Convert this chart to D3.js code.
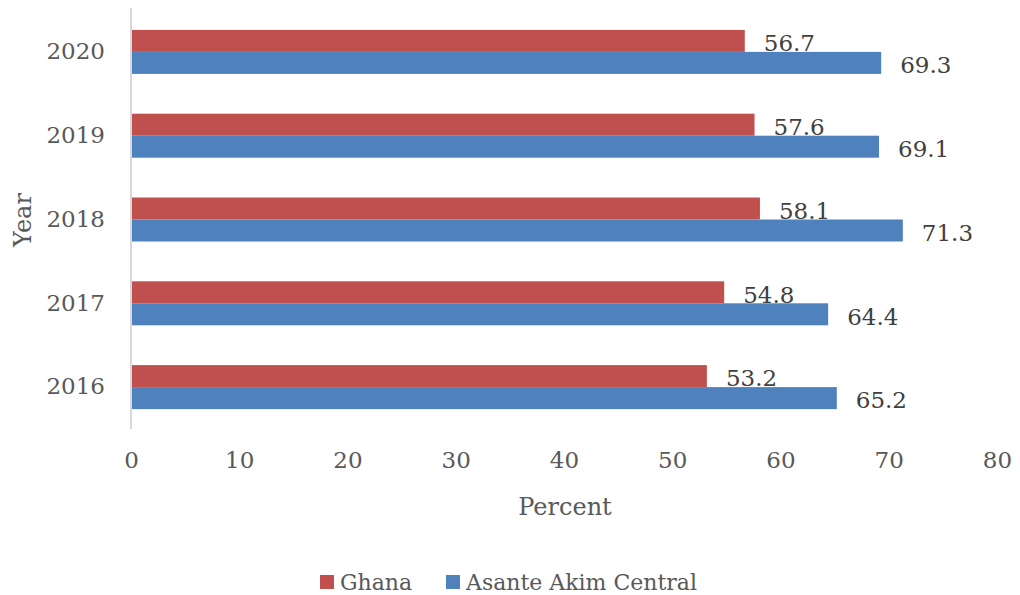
<!DOCTYPE html>
<html>
<head>
<meta charset="utf-8">
<script src="https://cdn.jsdelivr.net/npm/d3@7"></script>
<style>
  html, body { margin: 0; padding: 0; background: #fff; }
  svg text { font-family: "DejaVu Serif", "Liberation Serif", serif; }
</style>
</head>
<body>
<svg id="chart" width="1020" height="595"></svg>
<script>
// Years shown top to bottom
const years = ["2020", "2019", "2018", "2017", "2016"];
// Percent values per year (same order as years)
const ghana = [56.7, 57.6, 58.1, 54.8, 53.2];
const asanteAkimCentral = [69.3, 69.1, 71.3, 64.4, 65.2];
const seriesNames = ["Ghana", "Asante Akim Central"];
const seriesColors = ["#c0504d", "#4f81bd"];
const xTicks = [0, 10, 20, 30, 40, 50, 60, 70, 80];

const svg = d3.select("#chart");

const x = d3.scaleLinear().domain([0, 80]).range([131, 997]);
const y = d3.scaleBand().domain(years).range([10, 429]).paddingInner(0.475).paddingOuter(0.2375);
const inner = d3.scaleBand().domain(seriesNames).range([0, y.bandwidth()]);

const rows = years.map((yr, i) => ({ year: yr, values: [ghana[i], asanteAkimCentral[i]] }));

// Bars
const groups = svg.append("g").selectAll("g")
  .data(rows).join("g")
  .attr("transform", d => `translate(0,${y(d.year)})`);

groups.selectAll("rect")
  .data(d => d.values.map((v, j) => ({ name: seriesNames[j], value: v, color: seriesColors[j] })))
  .join("rect")
  .attr("x", x(0))
  .attr("y", d => inner(d.name))
  .attr("width", d => x(d.value) - x(0))
  .attr("height", inner.bandwidth())
  .attr("fill", d => d.color);

// Value labels
groups.selectAll("text")
  .data(d => d.values.map((v, j) => ({ name: seriesNames[j], value: v })))
  .join("text")
  .attr("x", d => x(d.value) + 19)
  .attr("y", d => inner(d.name) + inner.bandwidth() / 2 + 2)
  .attr("dy", "0.36em")
  .attr("font-size", 23)
  .attr("fill", "#404040")
  .text(d => d3.format(".1f")(d.value));

// Vertical axis line
svg.append("line")
  .attr("x1", x(0)).attr("x2", x(0))
  .attr("y1", 8).attr("y2", 429)
  .attr("stroke", "#d9d9d9").attr("stroke-width", 2);

// Y axis labels
const yAxis = svg.append("g")
  .attr("transform", `translate(${x(0)},0)`)
  .call(d3.axisLeft(y).tickSize(0).tickPadding(26));
yAxis.select(".domain").remove();
yAxis.selectAll("text")
  .attr("font-size", 23)
  .attr("fill", "#595959")
  .attr("font-family", "DejaVu Serif, Liberation Serif, serif");

// X axis labels
const xAxis = svg.append("g")
  .attr("transform", "translate(0,440)")
  .call(d3.axisBottom(x).tickValues(xTicks).tickSize(0).tickPadding(12));
xAxis.select(".domain").remove();
xAxis.selectAll("text")
  .attr("font-size", 23)
  .attr("fill", "#595959")
  .attr("font-family", "DejaVu Serif, Liberation Serif, serif");

// Axis titles
svg.append("text")
  .attr("x", 565).attr("y", 515)
  .attr("text-anchor", "middle")
  .attr("font-size", 24)
  .attr("fill", "#595959")
  .text("Percent");

svg.append("text")
  .attr("transform", "translate(31,220) rotate(-90)")
  .attr("text-anchor", "middle")
  .attr("font-size", 24)
  .attr("fill", "#595959")
  .text("Year");

// Legend
const legendItems = [
  { name: seriesNames[0], color: seriesColors[0], x: 320 },
  { name: seriesNames[1], color: seriesColors[1], x: 446 }
];
const legend = svg.append("g").selectAll("g")
  .data(legendItems).join("g")
  .attr("transform", d => `translate(${d.x},575)`);
legend.append("rect")
  .attr("width", 14).attr("height", 14)
  .attr("fill", d => d.color);
legend.append("text")
  .attr("x", 20).attr("y", 7)
  .attr("dy", "0.36em")
  .attr("font-size", 22)
  .attr("fill", "#595959")
  .text(d => d.name);
</script>
</body>
</html>
